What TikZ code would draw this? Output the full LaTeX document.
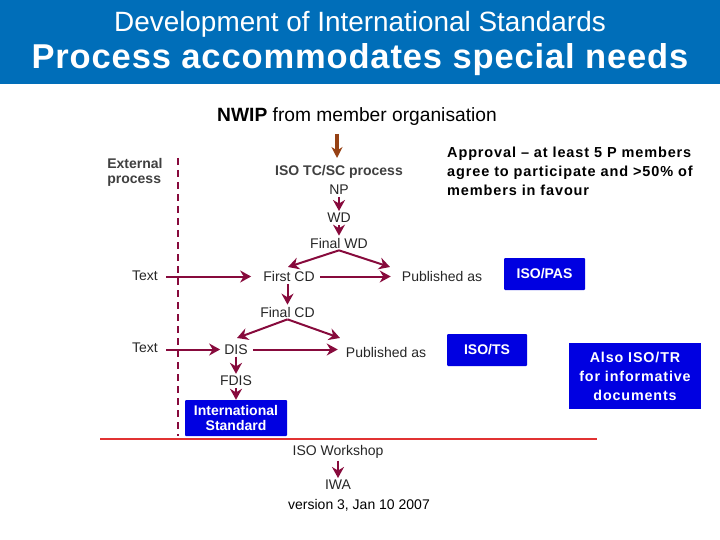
\documentclass[tikz,border=0pt]{standalone}
\usepackage{fontspec}
\setmainfont{Liberation Sans}
\newfontfamily\spaced[LetterSpace=6]{Liberation Sans}
\newfontfamily\titlefont[LetterSpace=2.5]{Liberation Sans}
\usetikzlibrary{arrows.meta}
\definecolor{headblue}{RGB}{0,110,185}
\definecolor{boxblue}{RGB}{0,0,225}
\definecolor{flowred}{RGB}{135,10,60}
\definecolor{inbrown}{RGB}{150,65,20}
\definecolor{linered}{RGB}{225,50,50}
\tikzset{
    label/.style={inner sep=2pt, text=black!85, font=\fontsize{14}{16}\selectfont},
    boldlabel/.style={inner sep=2pt, text=black!75, align=left, font=\fontsize{14}{15}\selectfont\bfseries},
    flow/.style={draw=flowred, line width=2pt, -{Stealth[length=11pt,width=12pt]}},
    sideflow/.style={flow, shorten <=6pt, shorten >=10pt},
    bluebox/.style={fill=boxblue, text=white, align=center, inner sep=0pt, rounded corners=1pt,
        font=\fontsize{14}{15}\selectfont\bfseries},
    notebox/.style={fill=boxblue, text=white, align=center, inner sep=0pt,
        font=\spaced\fontsize{14.3}{19}\selectfont\bfseries},
}
\begin{document}
\begin{tikzpicture}[x=1pt, y=-1pt]
        \useasboundingbox (0,0) rectangle (720,540);

        % header
        \fill[headblue] (0,0) rectangle (720,84);
        \node[text=white, font=\fontsize{27.9}{30}\selectfont] (heading) at (360,24) {Development of International Standards};
        \node[text=white, font=\titlefont\fontsize{34.5}{38}\selectfont\bfseries] (title) at (360,59.5) {Process accommodates special needs};

        % top text
        \node[font=\fontsize{19.2}{22}\selectfont] (nwip) at (357,117) {\textbf{NWIP} from member organisation};
        \node[align=left, anchor=north west, inner sep=0pt, font=\spaced\fontsize{14.5}{19}\selectfont\bfseries] (approval) at (447,147)
            {Approval – at least 5 P members\\agree to participate and >50\% of\\members in favour};

        % lines
        \draw[draw=flowred, line width=1.4pt, dash pattern=on 7pt off 5pt] (178,158) -- (178,436);
        \draw[draw=linered, line width=1.4pt] (100,439) -- (597,439);

        % external side
        \node[boldlabel] (external) at (135,172) {External\\process};
        \node[label] (text1) at (145,276) {Text};
        \node[label] (text2) at (145,348) {Text};

        % process column
        \node[boldlabel] (tcsc) at (339,172) {ISO TC/SC process};
        \node[label] (np) at (339,190) {NP};
        \node[label] (wd) at (339,218) {WD};
        \node[label] (finalwd) at (339,243) {Final WD};
        \node[label] (firstcd) at (289,276.5) {First CD};
        \node[label] (pub1) at (442,276) {Published as};
        \node[label] (finalcd) at (287.5,312) {Final CD};
        \node[label] (dis) at (236,349.5) {DIS};
        \node[label] (pub2) at (386,352) {Published as};
        \node[label] (fdis) at (236,381) {FDIS};
        \node[label] (workshop) at (338,452) {ISO Workshop};
        \node[label] (iwa) at (338,485) {IWA};
        \node[font=\fontsize{14}{16}\selectfont] (version) at (359,505) {version 3, Jan 10 2007};

        % blue boxes
        \node[bluebox, minimum width=81pt, minimum height=32pt] (pas) at (544.5,274) {ISO/PAS};
        \node[bluebox, minimum width=80pt, minimum height=32pt] (ts) at (487,350) {ISO/TS};
        \node[bluebox, minimum width=102pt, minimum height=36pt] (is) at (236,418) {International\\Standard};
        \node[notebox, minimum width=132pt, minimum height=66pt] (also) at (635,376) {Also ISO/TR\\for informative\\documents};

        % free ends
        \coordinate (in) at (337,134);
        \coordinate (intip) at (337,158);
        \coordinate (wdleft) at (288,267);
        \coordinate (wdright) at (390,267);
        \coordinate (cdleft) at (237,338);
        \coordinate (cdright) at (340,338);

        % arrows
        \draw[draw=inbrown, line width=3.5pt, -{Stealth[length=11pt,width=11pt]}] (in) -- (intip);
        \draw[flow] (np) -- (wd);
        \draw[flow] (wd) -- (finalwd);
        \draw[flow] (finalwd.south) -- (wdleft);
        \draw[flow] (finalwd.south) -- (wdright);
        \draw[sideflow] (text1.east |- firstcd) -- (firstcd.west);
        \draw[sideflow, shorten <=3pt, shorten >=9pt] (firstcd.east) -- (firstcd -| pub1.west);
        \draw[flow] (finalcd |- firstcd.south) -- (finalcd.north);
        \draw[flow] (finalcd.south) -- (cdleft);
        \draw[flow] (finalcd.south) -- (cdright);
        \draw[sideflow, shorten >=2pt] (text2.east |- dis) -- (dis.west);
        \draw[sideflow, shorten <=3pt, shorten >=6pt] (dis.east) -- (dis -| pub2.west);
        \draw[flow] (dis) -- (fdis);
        \draw[flow] (fdis) -- (is);
        \draw[flow] (workshop) -- (iwa);
    \end{tikzpicture}
\end{document}
